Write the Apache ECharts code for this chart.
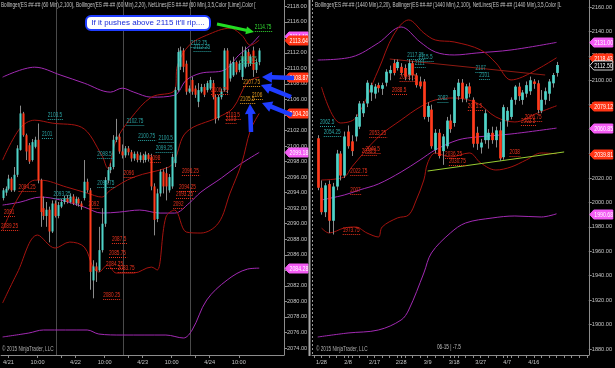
<!DOCTYPE html>
<html><head><meta charset="utf-8">
<script src="https://cdn.jsdelivr.net/npm/echarts@6/dist/echarts.min.js"></script>
<style>html,body{margin:0;padding:0;background:#000;}#c{width:615px;height:368px;}</style>
</head><body><div id="c"></div>
<script>
// ---------------- DATA ----------------
// Left panel: 60 min bars, [open, high, low, close]
const leftOHLC = [
[2093.3,2094.6,2093.0,2094.3],[2094.0,2094.8,2093.6,2094.5],[2094.5,2096.3,2094.3,2095.8],[2095.8,2096.0,2094.1,2094.3],
[2094.3,2097.3,2094.1,2096.3],[2096.3,2100.1,2096.0,2099.7],[2099.5,2105.2,2099.4,2104.2],[2104.2,2104.4,2101.2,2101.4],
[2101.4,2101.6,2098.2,2099.3],[2100.1,2100.4,2097.7,2098.0],[2098.2,2100.9,2098.0,2100.5],[2099.9,2101.2,2099.7,2100.8],
[2100.8,2102.9,2095.2,2095.6],[2095.6,2095.8,2089.6,2091.5],[2092.0,2093.5,2090.5,2091.0],[2091.0,2092.8,2089.6,2091.8],
[2091.8,2092.2,2087.6,2089.0],[2089.0,2093.0,2088.8,2092.6],[2092.6,2093.0,2090.8,2091.0],[2091.0,2092.8,2090.7,2092.4],
[2092.2,2093.2,2092.0,2092.8],[2092.8,2093.6,2092.5,2093.3],[2093.3,2093.7,2092.6,2092.8],[2092.8,2093.9,2092.6,2093.5],
[2093.5,2093.8,2092.4,2092.6],[2092.6,2093.5,2092.3,2093.2],[2093.2,2093.4,2092.2,2092.6],[2092.6,2092.9,2091.8,2092.2],
[2093.3,2098.2,2093.0,2095.4],[2095.4,2095.8,2094.0,2094.3],[2094.3,2094.6,2081.5,2083.8],[2082.7,2085.3,2080.4,2084.5],
[2084.5,2085.0,2082.5,2083.9],[2084.0,2089.6,2083.8,2086.6],[2086.6,2092.0,2086.3,2090.0],[2090.0,2096.0,2089.6,2095.6],
[2095.6,2097.3,2095.2,2096.9],[2096.9,2097.8,2096.5,2097.3],[2097.3,2101.4,2097.0,2100.8],[2100.8,2103.5,2100.5,2101.2],
[2101.2,2101.6,2099.0,2099.3],[2099.3,2100.2,2098.4,2098.8],[2098.8,2100.0,2098.5,2099.7],[2099.7,2100.0,2098.8,2099.2],
[2099.2,2099.5,2098.0,2098.4],[2098.4,2099.3,2098.1,2099.0],[2099.0,2099.3,2097.9,2098.2],[2098.2,2099.2,2097.9,2098.8],
[2098.8,2099.0,2097.8,2098.2],[2098.2,2099.3,2097.9,2098.9],[2098.9,2099.1,2098.0,2098.3],[2098.6,2099.0,2094.3,2094.8],
[2094.8,2095.2,2088.5,2090.5],[2090.6,2094.5,2090.2,2093.9],[2093.9,2097.0,2093.5,2096.7],[2096.7,2097.0,2093.9,2094.8],
[2096.5,2097.3,2093.0,2094.8],[2094.3,2096.4,2094.0,2096.0],[2094.8,2099.0,2094.5,2098.6],[2097.8,2107.6,2097.3,2107.2],
[2107.2,2112.6,2107.0,2112.1],[2110.2,2112.8,2109.8,2112.3],[2112.3,2112.6,2109.5,2110.2],[2110.6,2111.0,2106.6,2107.0],
[2107.0,2107.8,2106.8,2107.4],[2108.5,2108.9,2106.6,2107.0],[2107.4,2107.8,2106.2,2106.6],[2105.7,2108.1,2105.0,2107.2],
[2107.0,2108.0,2106.8,2107.6],[2107.6,2108.0,2106.3,2106.6],[2107.2,2108.4,2106.9,2108.1],[2107.4,2108.9,2107.2,2108.5],
[2108.1,2108.5,2106.0,2106.3],[2106.3,2106.6,2102.9,2103.5],[2103.6,2106.6,2103.3,2106.3],[2106.3,2107.4,2106.0,2107.0],
[2107.2,2112.6,2107.0,2112.3],[2112.3,2112.6,2106.8,2107.2],[2108.7,2111.0,2108.3,2110.6],[2109.1,2111.5,2108.9,2110.8],
[2110.8,2111.0,2109.2,2109.5],[2109.8,2111.0,2109.5,2110.6],[2108.9,2112.8,2108.5,2111.5],[2110.2,2112.8,2110.0,2112.3],
[2112.1,2112.5,2110.2,2110.6],[2110.6,2111.8,2110.3,2111.5],[2112.3,2112.8,2108.9,2109.8],[2109.8,2111.2,2109.4,2110.8],
[2110.8,2112.6,2110.4,2112.3]
];
const leftSlots = 97;
const leftTickIdx = [2,12,25,35,48,58,71,81];
const leftTickLabels = ['4/21','10:00','4/22','10:00','4/23','10:00','4/24','10:00'];
const leftExtraTicks = [20,43,66];
const leftSessionBreaks = [19,42,65];

// Bollinger (2,100) purple, Bollinger (2,20) dark red: [barIndex, price]
const leftPurpleUpper = [[0,2108.87],[11,2110.15],[20,2109.12],[28,2108.09],[37,2106.94],[41,2107.45],[45,2106.94],[51,2106.29],[59,2106.55],[63,2108.48],[68,2109.38],[76,2109.77],[81,2111.7],[85,2112.98],[88,2114.19]];
const leftPurpleMid = [[0,2092.4],[6,2092.78],[13,2093.43],[20,2093.04],[28,2092.14],[34,2091.37],[40,2091.5],[47,2091.76],[54,2091.37],[59,2091.37],[64,2092.65],[68,2094.07],[75,2095.87],[81,2097.54],[88,2099.18]];
const leftPurpleLower = [[0,2075.42],[9,2075.93],[14,2076.32],[29,2076.32],[33,2075.8],[41,2075.67],[56,2075.67],[62,2075.29],[65,2076.32],[70,2080.18],[77,2082.75],[84,2084.16],[88,2084.28]];
const leftRedUpper = [[0,2098.19],[6,2102.3],[11,2103.33],[17,2102.95],[27,2102.43],[34,2098.83],[36,2097.16],[39,2100.76],[44,2103.59],[51,2106.29],[59,2107.19],[60,2110.41],[64,2112.98],[70,2114.27],[78,2115.17],[82,2114.27],[85,2112.98],[88,2113.64]];
const leftRedMid = [[0,2089.18],[11,2095.61],[13,2095.61],[22,2094.71],[29,2093.94],[34,2093.43],[37,2094.33],[45,2096.0],[57,2097.29],[59,2098.19],[63,2101.79],[74,2103.72],[79,2104.88],[84,2108.22],[88,2108.87]];
const leftRedLower = [[0,2079.79],[5,2083.65],[12,2088.54],[18,2086.87],[23,2087.64],[28,2087.0],[31,2084.42],[33,2083.78],[36,2084.68],[39,2083.65],[45,2083.65],[51,2084.42],[53,2084.04],[56,2090.85],[59,2091.76],[63,2088.93],[68,2088.8],[74,2090.08],[78,2093.94],[82,2097.8],[85,2102.05],[88,2104.2]];

// NetLines price labels (left): index, price, text, colour class
const leftNetIdx    = [16,14,33,33,18,43,47,54,53,65,66,82,87, 6,1,0,30,38,37,36,40,35,42,51,62,61,60,59,72,77,77, 83,82,86];
const leftNetPrice  = [2103.5,2101,2098.5,2094.75,2093.25,2102.75,2100.75,2100.5,2099.25,2112.75,2112.25,2110.75,2114.75,
                       2094.25,2091,2089.25,2092,2087.5,2085.75,2084.25,2083.75,2080.25,2096,2098,2096.25,2094.25,2093.25,2092,2106.75,2103.5,2103,
                       2107.75,2105.5,2106];
const leftNetText   = ['2103.5','2101','2098.5','2094.75','2093.25','2102.75','2100.75','2100.5','2099.25','2112.75','2112.25','2110.75','2114.75',
                       '2094.25','2091','2089.25','2092','2087.5','2085.75','2084.25','2083.75','2080.25','2096','2098','2096.25','2094.25','2093.25','2092','2106.75','2103.5','2103',
                       '2107.75','2105.5','2106'];
const leftNetKind   = ['t','t','t','t','t','t','t','t','t','t','t','g','G',
                       'r','r','r','r','r','r','r','r','r','r','r','r','r','r','r','r','r','r',
                       'o','o','o'];
const leftMarkerPrice = [2114.19,2113.64,2108.87,2104.20,2099.18,2084.28];
const leftMarkerKind  = ['p','r','r','r','p','p'];

// Right panel: daily bars, [open, high, low, close], first bar at slot 1
const rightOHLC = [
[2052.5,2055,2010,2012],[2012,2018,1990,1992],[1992,2016,1988,2014],[2015,2018,1975,1985],[1985,2016,1973.75,2013],
[2013,2043,2010,2040],[2040,2042,2018,2022],[2022,2058,2020,2054],[2058,2063,2044,2046],[2050,2055,2038,2042],
[2054,2072,2050,2070],[2062,2083,2060,2081],[2073,2083,2070,2081],[2081,2100,2078,2098],[2090,2098,2083,2096],
[2089,2097,2085,2094.8],[2096,2098,2090,2093.5],[2093,2098,2088,2096],[2098,2109,2095,2107],[2105.7,2112,2100,2108.4],
[2114,2117,2104,2106],[2110,2117,2108,2115],[2111,2114,2104,2106],[2110,2113,2100,2103],[2104,2117.25,2100,2114],
[2114,2116,2099.75,2104],[2104,2106,2094,2096],[2099,2103,2093,2095],[2099,2101,2068,2070],[2070,2082,2066,2079],
[2076,2080,2044,2046],[2043,2060,2040,2057],[2057,2060,2036,2038],[2042,2056,2030.75,2054],[2046,2070,2044,2067],
[2067,2072,2057,2060],[2065,2094,2062,2092],[2087,2101,2084,2098],[2098,2101,2082,2085],[2085,2097,2082,2095],
[2095,2098,2086,2089],[2084,2086,2045,2048],[2057,2062,2043,2048],[2045,2052,2040,2049],[2051,2076,2048,2073],
[2051,2060,2044,2057],[2057,2062,2048,2051],[2051,2062,2045,2059],[2059,2066,2034,2036],[2037,2080,2035,2078],
[2067,2078,2062,2075],[2070,2086,2068,2084],[2084,2096,2080,2094.8],[2094.8,2098,2083,2087],[2083.9,2092,2080,2090],
[2089,2099,2086,2096],[2091,2103,2088,2100],[2099,2101,2093,2097],[2097.5,2100,2073,2075.7],[2075,2092,2073,2084],
[2084,2094,2080,2091],[2089,2101,2083,2099],[2097.5,2106,2094,2104.3],[2106,2115,2103,2112.5]
];
const rightFirstSlot = 1;
const rightSlots = 73;
const rightTickIdx = [2,9,16,23,30,37,44,51,58];
const rightTickLabels = ['1/28','2/8','2/17','2/28','3/9','3/18','3/27','4/7','4/16'];
const rightRollover = 33;

const rightPurpleUpper = [[1,2116.61],[10,2119.07],[17,2130.53],[23,2143.63],[28,2131.35],[32,2123.16],[37,2120.7],[43,2122.34],[52,2124.8],[64,2131.0]];
const rightPurpleMid = [[2,2001.99],[8,2006.08],[12,2010.18],[17,2015.09],[23,2024.91],[28,2034.74],[32,2042.93],[38,2051.11],[43,2053.57],[52,2056.03],[64,2060.85]];
const rightPurpleLower = [[1,1889.83],[9,1893.11],[17,1895.56],[23,1903.75],[25,1911.93],[29,1942.23],[31,1958.6],[36,1974.97],[40,1983.16],[47,1987.25],[53,1988.89],[60,1988.07],[64,1990.68]];
const rightRedUpper = [[2,2094.5],[7,2065.03],[11,2069.12],[17,2108.42],[21,2137.08],[25,2149.36],[29,2138.71],[32,2132.98],[37,2131.35],[44,2124.8],[48,2114.15],[52,2100.23],[55,2102.69],[60,2110.88],[64,2118.43]];
const rightRedMid = [[2,2018.36],[8,2020.82],[10,2029.01],[17,2053.57],[23,2067.49],[28,2078.13],[32,2083.86],[37,2085.5],[43,2081.4],[48,2069.94],[53,2065.85],[59,2073.22],[64,2079.12]];
const rightRedLower = [[2,1979.07],[4,1974.97],[8,1979.07],[11,1979.89],[14,1974.97],[17,1971.7],[18,1979.89],[22,1987.25],[25,1989.71],[27,2001.99],[29,2018.36],[30,2032.28],[32,2040.47],[36,2037.19],[41,2040.47],[44,2032.28],[48,2026.55],[52,2029.01],[56,2034.74],[60,2040.47],[64,2039.81]];
const rightLimeTrend = [[30,2025.7],[66,2041.3]];
const rightRedTrend = [[20,2117.4],[61,2104.3]];

const rightNetIdx   = [25,28,27,43,44,33,2,3, 23,21,15,14,13,10,41,56,55,35,36,52,10,8];
const rightNetPrice = [2117.25,2115.5,2111,2107,2101,2082,2062.5,2054.25, 2099.75,2088.5,2053.25,2040.5,2038.5,2022.75,2075.5,2066.75,2063.5,2036.25,2030.75,2038,2007,1973.75];
const rightNetText  = ['2117.25','2115.5','2111','2107','2101','2082','2062.5','2054.25','2099.75','2088.5','2053.25','2040.5','2038.5','2022.75','2075.5','2066.75','2063.5','2036.25','2030.75','2038','2007','1973.75'];
const rightNetKind  = ['t','t','t','t','t','t','t','t','r','r','r','r','r','r','r','r','r','r','r','r','r','r'];
const rightMarkerPrice = [2131.00,2118.43,2112.50,2079.12,2060.85,2039.81,1990.68];
const rightMarkerKind  = ['p','r','o','r','p','r','p'];

const leftTitle = 'Bollinger(ES ##-## (60 Min),2,100), Bollinger(ES ##-## (60 Min),2,20), NetLines(ES ##-## (60 Min),3,5,Color [Lime],Color [';
const rightTitle = 'Bollinger(ES ##-## (1440 Min),2,20), Bollinger(ES ##-## (1440 Min),2,100), NetLines(ES ##-## (1440 Min),3,5,Color [L';

// ---------------- STYLE ----------------
const FONT = '"Liberation Sans",Arial,sans-serif';
const UP = '#4fd3c8', DN = '#ff3b1c', WICK = '#8a8a8a';
const PURPLE = '#a22ab3', DRED = '#a5130f';
const NETCOL = {t:'#2aa3a3', r:'#e8321d', o:'#e39a1f', g:'#37b27a', G:'#33dd33'};
const AXC = '#8c8c8c', TXC = '#c4c4c4';
const SX = 0.72; // horizontal squeeze of the small texts

function candleRender(widthFrac){
  return function(params, api){
    const i = api.value(0), o = api.value(1), h = api.value(2), l = api.value(3), c = api.value(4);
    const pO = api.coord([i,o]), pC = api.coord([i,c]), pH = api.coord([i,h]), pL = api.coord([i,l]);
    const bw = Math.max(1.5, api.size([1,0])[0]*widthFrac);
    const x = Math.round(pO[0]) + 0.5;
    const top = Math.min(pO[1],pC[1]), bot = Math.max(pO[1],pC[1]);
    return {type:'group', children:[
      {type:'line', shape:{x1:x,y1:pH[1],x2:x,y2:pL[1]}, style:{stroke:WICK,lineWidth:1}},
      {type:'rect', shape:{x:x-bw/2,y:top,width:bw,height:Math.max(1,bot-top)}, style:{fill:c>=o?UP:DN}}
    ]};
  };
}
function netRender(texts, kinds){
  return function(params, api){
    const p = api.coord([api.value(0), api.value(1)]);
    const t = texts[params.dataIndex], col = NETCOL[kinds[params.dataIndex]];
    const w = t.length*2.45 + 1;
    const x = p[0]-1.5, y = Math.round(p[1])+0.5;
    return {type:'group', children:[
      {type:'line', shape:{x1:x,y1:y,x2:x+w,y2:y}, style:{stroke:col,lineWidth:1,lineDash:[1,1]}},
      {type:'text', x:x, y:y-0.5, scaleX:SX, style:{x:0,y:0,text:t,fill:col,fontSize:6.5,fontFamily:FONT,align:'left',verticalAlign:'bottom'}}
    ]};
  };
}
function markerRender(kinds){
  return function(params, api){
    const cs = params.coordSys;
    const x = cs.x + cs.width + 1;
    const v = api.value(1);
    const y = Math.round(api.coord([0, v])[1]) + 0.5;
    const k = kinds[params.dataIndex];
    const fill = k==='p' ? '#f45cf4' : (k==='r' ? '#ff3414' : '#000');
    const stroke = k==='o' ? '#d0d0d0' : fill;
    const w = 23, h = 9;
    return {type:'group', children:[
      {type:'polygon', shape:{points:[[x,y],[x+4,y-h/2],[x+w,y-h/2],[x+w,y+h/2],[x+4,y+h/2]]}, style:{fill:fill,stroke:stroke,lineWidth:1}},
      {type:'text', x:x+4.5, y:y+0.5, scaleX:0.8, style:{x:0,y:0,text:v.toFixed(2),fill:'#fff',fontSize:6.5,fontFamily:FONT,align:'left',verticalAlign:'middle'}}
    ]};
  };
}
function arrow(x1,y1,x2,y2,w,hl,hw,color){
  const dx=x2-x1, dy=y2-y1, L=Math.hypot(dx,dy), ux=dx/L, uy=dy/L, nx=-uy, ny=ux;
  const bx=x2-ux*hl, by=y2-uy*hl;
  return {type:'polygon', z:100, shape:{points:[
    [x1+nx*w/2,y1+ny*w/2],[bx+nx*w/2,by+ny*w/2],[bx+nx*hw/2,by+ny*hw/2],[x2,y2],
    [bx-nx*hw/2,by-ny*hw/2],[bx-nx*w/2,by-ny*w/2],[x1-nx*w/2,y1-ny*w/2]]}, style:{fill:color}};
}
function smallText(x, y, text, color, size){
  return {type:'text', x:x, y:y, scaleX:SX, z:50, style:{x:0,y:0,text:text,fill:color,fontSize:size||6.5,fontFamily:FONT,align:'left',verticalAlign:'top'}};
}
function lineSeries(data, color, xi){
  return {type:'line', xAxisIndex:xi, yAxisIndex:xi, data:data, smooth:0.35, showSymbol:false, symbol:'none',
          lineStyle:{color:color,width:1}, silent:true, z:3, clip:true};
}
const mapL = {}; leftTickIdx.forEach((k,j)=>mapL[k]=leftTickLabels[j]);
const mapR = {}; rightTickIdx.forEach((k,j)=>mapR[k]=rightTickLabels[j]);
const priceFmt = v => (Math.abs(v/2-Math.round(v/2))<1e-6 ? v.toFixed(2) : '');
const priceFmtR = v => (Math.abs(v/20-Math.round(v/20))<1e-6 ? v.toFixed(2) : '');

const leftCats = Array.from({length:leftSlots},(_,k)=>'L'+k);
const rightCats = Array.from({length:rightSlots},(_,k)=>'R'+k);
const AXFONT = 5.6;

const chart = echarts.init(document.getElementById('c'), null, {renderer:'canvas'});
const option = {
  backgroundColor:'#000',
  animation:false,
  grid:[
    {left:0, top:0, width:284, height:355},
    {left:312, top:0, width:278, height:355}
  ],
  xAxis:[
    {type:'category', gridIndex:0, data:leftCats, boundaryGap:true,
     axisLine:{show:true,lineStyle:{color:AXC}},
     axisTick:{show:true,alignWithLabel:true,length:3,lineStyle:{color:AXC},interval:(i)=>mapL[i]!==undefined||leftExtraTicks.includes(i)},
     axisLabel:{color:TXC,fontSize:AXFONT,fontFamily:FONT,margin:4,interval:(i)=>mapL[i]!==undefined,formatter:(v,i)=>mapL[i]||''},
     splitLine:{show:true,interval:(i)=>leftSessionBreaks.includes(i),lineStyle:{color:'#4a4a4a',width:1}}},
    {type:'category', gridIndex:1, data:rightCats, boundaryGap:true,
     axisLine:{show:true,lineStyle:{color:AXC}},
     axisTick:{show:true,alignWithLabel:true,length:3,lineStyle:{color:AXC},interval:(i)=>mapR[i]!==undefined||i%2===0},
     axisLabel:{color:TXC,fontSize:AXFONT,fontFamily:FONT,margin:4,interval:(i)=>mapR[i]!==undefined,formatter:(v,i)=>mapR[i]||''},
     splitLine:{show:true,interval:(i)=>i===rightRollover,lineStyle:{color:'#9a9a9a',width:1,type:[2,2]}}}
  ],
  yAxis:[
    {type:'value', gridIndex:0, position:'right', min:2073.1, max:2118.8, splitNumber:23, scale:true,
     axisLine:{show:true,lineStyle:{color:AXC}}, axisTick:{show:true,length:3,lineStyle:{color:AXC}},
     axisLabel:{color:TXC,fontSize:AXFONT,fontFamily:FONT,margin:3,formatter:priceFmt,showMinLabel:false,showMaxLabel:false},
     splitLine:{show:false}},
    {type:'value', gridIndex:1, position:'right', min:1875.1, max:2165.7, splitNumber:15, scale:true,
     axisLine:{show:true,lineStyle:{color:AXC}}, axisTick:{show:true,length:3,lineStyle:{color:AXC}},
     axisLabel:{color:TXC,fontSize:AXFONT,fontFamily:FONT,margin:3,formatter:priceFmtR,showMinLabel:false,showMaxLabel:false},
     splitLine:{show:false}}
  ],
  series:[
    lineSeries(leftPurpleUpper, PURPLE, 0),
    lineSeries(leftPurpleMid, PURPLE, 0),
    lineSeries(leftPurpleLower, PURPLE, 0),
    lineSeries(leftRedUpper, DRED, 0),
    lineSeries(leftRedMid, DRED, 0),
    lineSeries(leftRedLower, DRED, 0),
    {type:'custom', xAxisIndex:0, yAxisIndex:0, renderItem:candleRender(0.7), z:5, clip:true,
     encode:{x:0,y:[1,2,3,4]}, data:leftOHLC.map((d,k)=>[k,d[0],d[1],d[2],d[3]])},
    {type:'custom', xAxisIndex:0, yAxisIndex:0, renderItem:netRender(leftNetText,leftNetKind), z:6, clip:false,
     encode:{x:0,y:1}, data:leftNetIdx.map((k,j)=>[k,leftNetPrice[j]])},
    {type:'custom', xAxisIndex:0, yAxisIndex:0, renderItem:markerRender(leftMarkerKind), z:8, clip:false,
     encode:{x:0,y:1}, data:leftMarkerPrice.map(v=>[0,v])},

    lineSeries(rightPurpleUpper, PURPLE, 1),
    lineSeries(rightPurpleMid, PURPLE, 1),
    lineSeries(rightPurpleLower, PURPLE, 1),
    lineSeries(rightRedUpper, DRED, 1),
    lineSeries(rightRedMid, DRED, 1),
    lineSeries(rightRedLower, DRED, 1),
    {type:'line', xAxisIndex:1, yAxisIndex:1, data:rightLimeTrend, showSymbol:false, symbol:'none', lineStyle:{color:'#9acd32',width:1}, z:4},
    {type:'line', xAxisIndex:1, yAxisIndex:1, data:rightRedTrend, showSymbol:false, symbol:'none', lineStyle:{color:'#8e1a12',width:1}, z:4},
    {type:'custom', xAxisIndex:1, yAxisIndex:1, renderItem:candleRender(0.72), z:5, clip:true,
     encode:{x:0,y:[1,2,3,4]}, data:rightOHLC.map((d,k)=>[k+rightFirstSlot,d[0],d[1],d[2],d[3]])},
    {type:'custom', xAxisIndex:1, yAxisIndex:1, renderItem:netRender(rightNetText,rightNetKind), z:6, clip:false,
     encode:{x:0,y:1}, data:rightNetIdx.map((k,j)=>[k,rightNetPrice[j]])},
    {type:'custom', xAxisIndex:1, yAxisIndex:1, renderItem:markerRender(rightMarkerKind), z:8, clip:false,
     encode:{x:0,y:1}, data:rightMarkerPrice.map(v=>[0,v])}
  ],
  graphic:[
    {type:'rect', shape:{x:308.5,y:0,width:2,height:356}, style:{fill:'#a8a8a8'}, z:50},
    smallText(1, 2, leftTitle, TXC, 6.5),
    smallText(315, 2, rightTitle, TXC, 6.5),
    smallText(2, 346, '© 2015 NinjaTrader, LLC', '#b0b0b0', 6.5),
    smallText(316, 346, '© 2015 NinjaTrader, LLC', '#b0b0b0', 6.5),
    smallText(437, 344, '06-15 | -7.5', '#c0c0c0', 6.5),
    {type:'rect', shape:{x:86,y:16,width:124,height:14,r:5}, style:{fill:'#ffffff',stroke:'#1f3dff',lineWidth:2}, z:100},
    {type:'text', x:148, y:23, z:101, style:{text:"If it pushes above 2115 it'll rip....", fill:'#1a2bd8', fontSize:8, fontFamily:FONT, align:'center', verticalAlign:'middle'}},
    arrow(217,24,254,32,3,8,8,'#22dd22'),
    arrow(294,78,262,77,4.5,10,11,'#1f3dff'),
    arrow(291,97,261,85,4.5,10,11,'#1f3dff'),
    arrow(292,115,262,103,4.5,10,11,'#1f3dff'),
    arrow(251,132,250,104,4.5,10,11,'#1f3dff')
  ]
};
chart.setOption(option);
</script>
</body></html>
